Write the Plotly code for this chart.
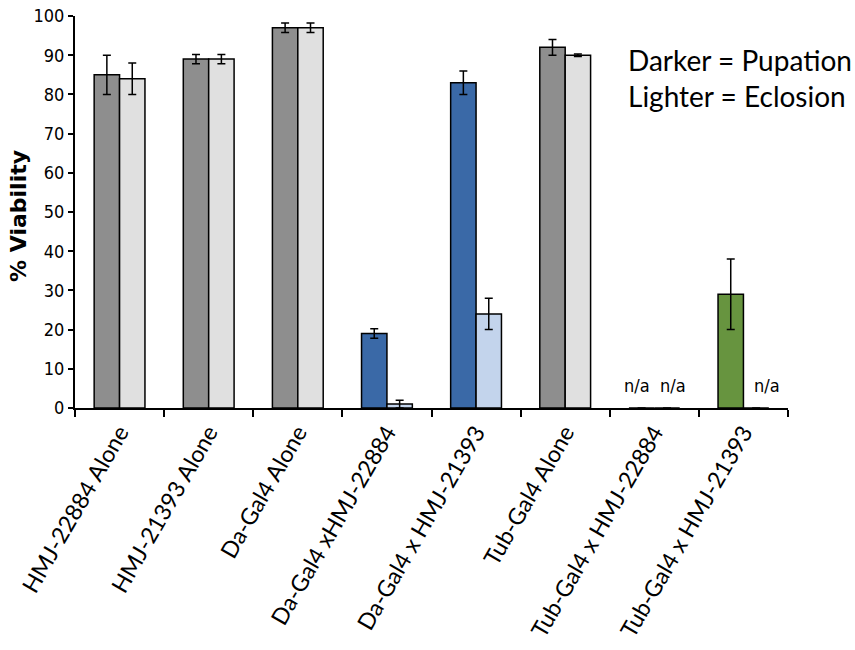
import plotly.graph_objects as go

# Viability data: each cross has a pupation (darker) and eclosion (lighter) value
categories = [
    "HMJ-22884 Alone",
    "HMJ-21393 Alone",
    "Da-Gal4 Alone",
    "Da-Gal4 xHMJ-22884",
    "Da-Gal4 x HMJ-21393",
    "Tub-Gal4 Alone",
    "Tub-Gal4 x HMJ-22884",
    "Tub-Gal4 x HMJ-21393",
]
pupation = [85, 89, 97, 19, 83, 92, 0, 29]
pupation_err = [5, 1.2, 1.2, 1.2, 3, 2, 0, 9]
eclosion = [84, 89, 97, 1, 24, 90, 0, 0]
eclosion_err = [4, 1.2, 1.2, 1, 4, 0.3, 0, 0]
pupation_na = [False, False, False, False, False, False, True, False]
eclosion_na = [False, False, False, False, False, False, True, True]

pupation_colors = ["#8e8e8e", "#8e8e8e", "#8e8e8e", "#3a69a7",
                   "#3a69a7", "#8e8e8e", "#8e8e8e", "#67943f"]
eclosion_colors = ["#e0e0e0", "#e0e0e0", "#e0e0e0", "#c3d4ec",
                   "#c3d4ec", "#e0e0e0", "#e0e0e0", "#e0e0e0"]

narrow = "Liberation Sans Narrow, DejaVu Sans Condensed, Arial Narrow, sans-serif"
label_font = "Lato, Calibri, Carlito, sans-serif"

fig = go.Figure()
for vals, errs, cols in [(pupation, pupation_err, pupation_colors),
                         (eclosion, eclosion_err, eclosion_colors)]:
    fig.add_trace(go.Bar(
        x=categories, y=vals,
        marker=dict(color=cols, line=dict(color="black", width=1.5)),
        error_y=dict(type="data", array=errs, visible=True,
                     color="black", thickness=1.5, width=4),
        showlegend=False,
    ))

# "n/a" markers above missing bars (placed slightly outside the bar centres)
for i, (p, e) in enumerate(zip(pupation_na, eclosion_na)):
    right_off = 0.21 if p else 0.26
    for flag, off in [(p, -0.19), (e, right_off)]:
        if flag:
            fig.add_annotation(x=i + off, y=0, xref="x", yref="y",
                               text="n/a", showarrow=False, yanchor="bottom",
                               yshift=10,
                               font=dict(family=narrow, size=18, color="black"))

fig.add_annotation(
    xref="paper", yref="paper", x=1.0, y=1.0,
    xanchor="left", yanchor="top", xshift=-162, yshift=-25,
    text="Darker = Pupation<br>Lighter = Eclosion", align="left",
    showarrow=False,
    font=dict(family=label_font, size=28, color="black"),
)

fig.add_annotation(
    xref="paper", yref="paper", x=0, y=0.49, xshift=-56,
    xanchor="center", yanchor="middle",
    text="<b>% Viability</b>", textangle=-90, showarrow=False,
    font=dict(family="DejaVu Sans, Verdana, sans-serif", size=22, color="black"),
)

fig.update_layout(
    width=855, height=650,
    margin=dict(l=75, r=67, t=16, b=242),
    plot_bgcolor="white", paper_bgcolor="white",
    barmode="group", bargap=0.43, bargroupgap=0,
    font=dict(color="black"),
)
fig.update_xaxes(
    range=[-0.5, 7.5], showline=True, linecolor="black", linewidth=2,
    ticks="outside", tickson="boundaries", ticklen=7, tickwidth=1.5,
    tickcolor="black", tickangle=-60, showgrid=False, automargin=False,
    tickfont=dict(family=label_font, size=23, color="black"),
)
fig.update_yaxes(
    range=[0, 100], dtick=10, showline=True, linecolor="black", linewidth=2,
    ticks="outside", ticklen=5, tickwidth=1.5, tickcolor="black",
    showgrid=False, zeroline=False, automargin=False,
    tickfont=dict(family=narrow, size=18, color="black"),
)

fig.write_html("out.html")
